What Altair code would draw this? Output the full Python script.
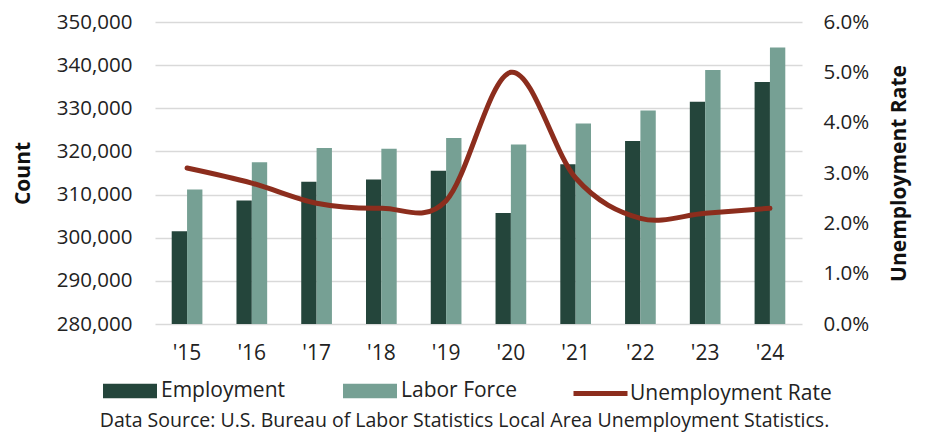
import altair as alt
import pandas as pd

years = ["'15", "'16", "'17", "'18", "'19", "'20", "'21", "'22", "'23", "'24"]
employment = [301500, 308600, 313000, 313500, 315500, 305700, 317000, 322400, 331500, 336100]
labor_force = [311200, 317500, 320800, 320600, 323100, 321600, 326500, 329500, 338900, 344100]
unemployment_rate = [0.031, 0.028, 0.024, 0.023, 0.0245, 0.050, 0.029, 0.021, 0.022, 0.023]

count_ticks = [280000, 290000, 300000, 310000, 320000, 330000, 340000, 350000]
rate_ticks = [0.0, 0.01, 0.02, 0.03, 0.04, 0.05, 0.06]

bar_series = ["Employment", "Labor Force"]
bar_colors = ["#24453b", "#76a094"]
line_color = "#8c2d1d"
source_text = "Data Source: U.S. Bureau of Labor Statistics Local Area Unemployment Statistics."

FONT = "Open Sans"

bars_df = pd.DataFrame(
    {
        "year": years * 2,
        "series": ["Employment"] * len(years) + ["Labor Force"] * len(years),
        "value": employment + labor_force,
    }
)
rate_df = pd.DataFrame(
    {"year": years, "rate": unemployment_rate, "series": ["Unemployment Rate"] * len(years)}
)

x_enc = alt.X(
    "year:N",
    sort=years,
    scale=alt.Scale(paddingInner=0.526, paddingOuter=0.258),
    axis=alt.Axis(
        title=None,
        labelAngle=0,
        domain=False,
        ticks=False,
        labelFontSize=21,
        labelPadding=18,
        labelColor="#222222",
        labelFont=FONT,
    ),
)

bars = (
    alt.Chart(bars_df)
    .mark_bar(clip=True)
    .encode(
        x=x_enc,
        xOffset=alt.XOffset("series:N", sort=bar_series),
        y=alt.Y(
            "value:Q",
            scale=alt.Scale(domain=[280000, 350000], zero=False, nice=False),
            axis=alt.Axis(
                title="Count",
                values=count_ticks,
                format=",.0f",
                grid=True,
                gridColor="#d9d9d9",
                gridWidth=1.5,
                domain=False,
                ticks=False,
                labelFontSize=20.5,
                labelFont=FONT,
                labelColor="#222222",
                labelPadding=23,
                titleFont=FONT,
                titleFontSize=21,
                titleFontWeight="bold",
                titleColor="#111111",
                titlePadding=23,
            ),
        ),
        fill=alt.Fill(
            "series:N",
            scale=alt.Scale(domain=bar_series, range=bar_colors),
            legend=alt.Legend(
                title=None,
                orient="none",
                direction="horizontal",
                legendX=-52,
                legendY=342,
                symbolType="M-1,-0.27H1V0.27H-1Z",
                symbolSize=2916,
                symbolStrokeWidth=0,
                symbolOpacity=1,
                labelFont=FONT,
                labelFontSize=21,
                labelColor="#222222",
                labelOffset=4,
                labelLimit=0,
                columnPadding=57,
            ),
        ),
    )
)

line = (
    alt.Chart(rate_df)
    .mark_line(interpolate="cardinal", strokeWidth=5, strokeCap="round")
    .encode(
        x=alt.X("year:N", sort=years),
        y=alt.Y(
            "rate:Q",
            scale=alt.Scale(domain=[0, 0.06], nice=False),
            axis=alt.Axis(
                orient="right",
                title="Unemployment Rate",
                values=rate_ticks,
                format=".1%",
                grid=False,
                domain=False,
                ticks=False,
                labelFontSize=20.5,
                labelFont=FONT,
                labelColor="#222222",
                labelPadding=21,
                titleFont=FONT,
                titleFontSize=21,
                titleFontWeight="bold",
                titleColor="#111111",
                titlePadding=20,
                titleAngle=270,
                titleBaseline="top",
            ),
        ),
        stroke=alt.Stroke(
            "series:N",
            scale=alt.Scale(domain=["Unemployment Rate"], range=[line_color]),
            legend=alt.Legend(
                title=None,
                orient="none",
                legendX=416,
                legendY=342,
                symbolType="stroke",
                symbolSize=2916,
                symbolStrokeWidth=5,
                labelFont=FONT,
                labelFontSize=21,
                labelColor="#222222",
                labelOffset=0,
                labelLimit=0,
            ),
        ),
    )
)

chart = (
    alt.layer(bars, line)
    .resolve_scale(y="independent", fill="independent", stroke="independent")
    .properties(
        width=647,
        height=302,
        autosize=alt.AutoSizeParams(type="none"),
        padding={"left": 147, "top": 14, "right": 118, "bottom": 108},
        title=alt.TitleParams(
            text=source_text,
            orient="bottom",
            anchor="middle",
            font=FONT,
            fontSize=19.5,
            fontWeight="normal",
            color="#222222",
            offset=8,
            dx=-14,
        ),
    )
    .configure_view(stroke=None)
)

chart.save("out.html", embed_options={"renderer": "svg", "actions": False})
